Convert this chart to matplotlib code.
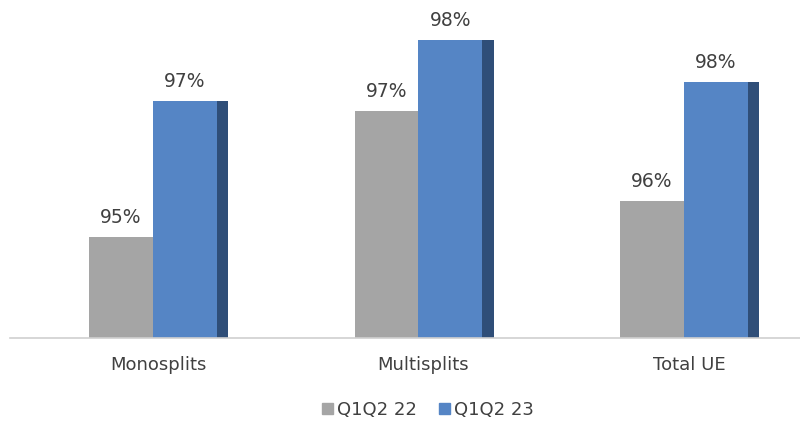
import numpy as np
import matplotlib
matplotlib.use('Agg')
import matplotlib.pyplot as plt
from matplotlib.patches import Patch

# ─── Data ─────────────────────────────────────────────────────────────
categories = ['Monosplits', 'Multisplits', 'Total UE']
series_names = ['Q1Q2 22', 'Q1Q2 23']
q1q2_22 = [95.08, 97.18, 95.68]
q1q2_23 = [97.35, 98.37, 97.67]

GRAY = '#A5A5A5'
BLUE = '#5585C5'
BLUE_DARK = '#2F4E78'
TEXT = '#404040'

plt.rcParams['font.family'] = ['DejaVu Sans']

fig = plt.figure(figsize=(8, 4.32), dpi=100, facecolor='white')
ax = fig.add_axes([10 / 800, (432 - 338) / 432, 790 / 800, 338 / 432])

x = np.arange(len(categories))
w = 64 / 265.5
side = 11 / 265.5
base = 93.4

ax.bar(x - w / 2, np.array(q1q2_22) - base, w, bottom=base, color=GRAY,
       linewidth=0)
# dark side face on the blue bars (drawn first, overlapping the front face)
ax.bar(x + w - 1 / 265.5, np.array(q1q2_23) - base, side + 1 / 265.5,
       bottom=base, align='edge', color=BLUE_DARK, linewidth=0)
ax.bar(x + w / 2, np.array(q1q2_23) - base, w, bottom=base, color=BLUE,
       linewidth=0)

for xi, v in zip(x, q1q2_22):
    ax.text(xi - w / 2, v + 0.17, f"{round(v):.0f}%", ha='center',
            va='bottom', fontsize=13.5, color=TEXT)
for xi, v in zip(x, q1q2_23):
    ax.text(xi + w / 2, v + 0.17, f"{round(v):.0f}%", ha='center',
            va='bottom', fontsize=13.5, color=TEXT)

ax.set_xlim(-143 / 265.5, 647 / 265.5)
ax.set_ylim(base, base + 338 / 60)

ax.set_xticks(x + 5 / 265.5)
ax.set_xticklabels(categories, fontsize=13, color=TEXT)
ax.tick_params(axis='x', length=0, pad=13)
ax.set_yticks([])
for s in ['top', 'right', 'left']:
    ax.spines[s].set_visible(False)
ax.spines['bottom'].set_color('#D0D0D0')
ax.spines['bottom'].set_linewidth(1.2)

handles = [Patch(color=GRAY, label=series_names[0]),
           Patch(color=BLUE, label=series_names[1])]
fig.legend(handles=handles, loc='center', bbox_to_anchor=(428 / 800, 1 - 410 / 432),
           ncol=2, frameon=False, fontsize=13, handlelength=0.6,
           handleheight=0.6, handletextpad=0.25, columnspacing=1.2,
           labelcolor=TEXT)

fig.savefig('out.png', dpi=100, facecolor='white')
